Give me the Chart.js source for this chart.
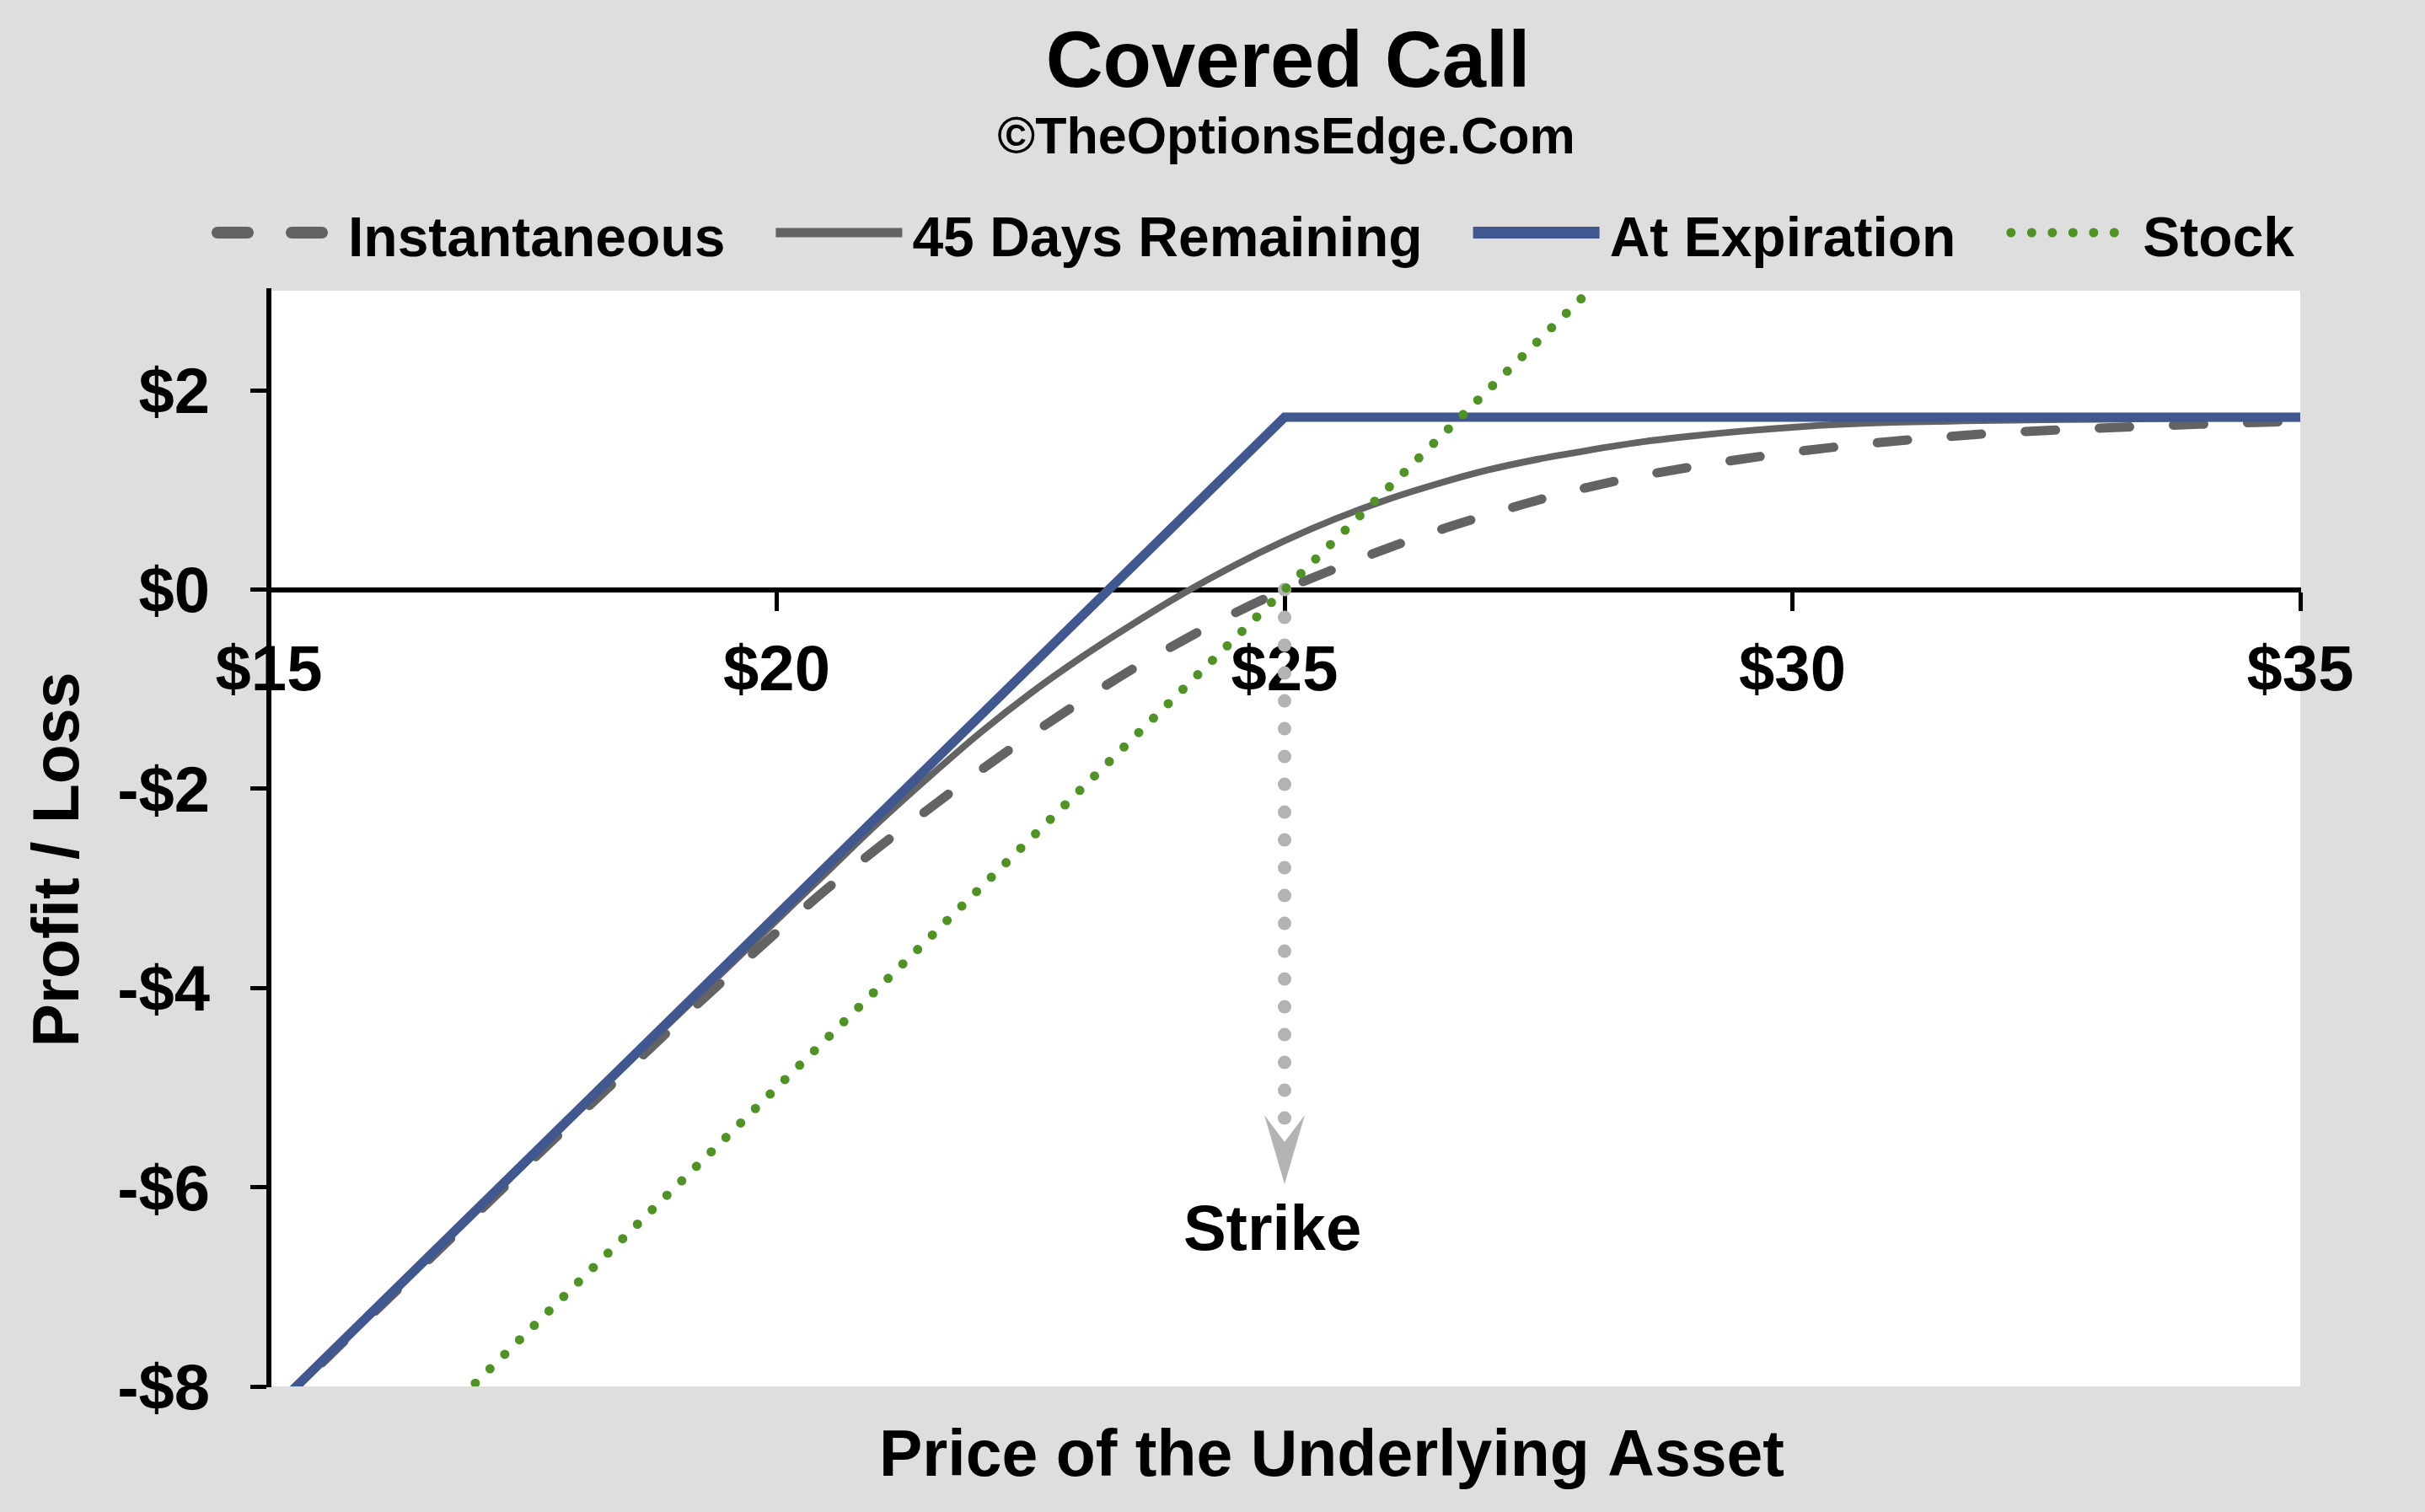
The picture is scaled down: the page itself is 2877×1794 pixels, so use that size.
<!DOCTYPE html>
<html>
<head>
<meta charset="utf-8">
<title>Covered Call</title>
<script src="https://cdn.jsdelivr.net/npm/chart.js@4.4.1/dist/chart.umd.min.js"></script>
<style>
    html, body { margin: 0; padding: 0; background: #dedede; }
    #wrap { width: 2877px; height: 1794px; }
</style>
</head>
<body>
<div id="wrap"><canvas id="coveredCall" width="2877" height="1794"></canvas></div>
<script>
// 文本
const titleText = 'Covered Call';
const subtitleText = '©TheOptionsEdge.Com';
const xTitle = 'Price of the Underlying Asset';
const yTitle = 'Profit / Loss';

// 标的价格 (x)
const prices = [15, 16, 17, 18, 18.5, 19, 19.5, 20, 20.5, 21, 21.5, 22, 22.5, 23, 23.5,
    24, 24.5, 25, 25.5, 26, 26.5, 27, 27.5, 28, 28.5, 29, 29.5, 30, 30.5, 31, 32, 33, 34, 35];

// 盈亏 (y)
const instantPL = [-8.28, -7.29, -6.31, -5.33, -4.85, -4.37, -3.90, -3.44, -3.00, -2.59, -2.20,
    -1.82, -1.46, -1.12, -0.80, -0.51, -0.24, 0.00, 0.21, 0.41, 0.59, 0.75, 0.90, 1.03, 1.14,
    1.23, 1.31, 1.38, 1.44, 1.49, 1.57, 1.62, 1.66, 1.69];
const days45PL = [-8.27, -7.27, -6.28, -5.29, -4.79, -4.30, -3.81, -3.32, -2.83, -2.34, -1.88,
    -1.44, -1.04, -0.68, -0.35, -0.04, 0.24, 0.49, 0.71, 0.90, 1.06, 1.20, 1.31, 1.40, 1.48,
    1.54, 1.59, 1.63, 1.66, 1.68, 1.70, 1.71, 1.72, 1.72];
const expirationPrices = [15, 25, 35];
const expirationPL = [-8.27, 1.73, 1.73];
const stockPrices = [15, 35];
const stockPL = [-10, 10];

// 坐标轴
const xTicks = [15, 20, 25, 30, 35];
const yTicks = [-8, -6, -4, -2, 0, 2];
const xMin = 15, xMax = 35, yMin = -8, yMax = 3;

// 行权价标注
const strikePrice = 25;
const strikeArrowTop = 0;
const strikeArrowTip = -5.97;
const strikeLabel = 'Strike';
const strikeLabelPrice = 24.88;
const strikeLabelValue = -6.63;

const fontFamily = "'Liberation Sans', Arial, Helvetica, sans-serif";
function boldFont(size) {
    return 'bold ' + size + 'px ' + fontFamily;
}
function toPoints(xs, ys) {
    return xs.map((x, i) => ({ x: x, y: ys[i] }));
}
function money(v) {
    return (v < 0 ? '-$' : '$') + Math.abs(v);
}

// 背景
const backgroundPlugin = {
    id: 'background',
    beforeDraw(chart) {
        const { ctx, chartArea: a } = chart;
        ctx.save();
        ctx.fillStyle = '#dedede';
        ctx.fillRect(0, 0, chart.width, chart.height);
        ctx.fillStyle = '#ffffff';
        ctx.fillRect(a.left, a.top, a.right - a.left, a.bottom - a.top);
        ctx.restore();
    }
};

// 行权价箭头
const strikePlugin = {
    id: 'strike',
    beforeDatasetsDraw(chart) {
        const { ctx, scales: { x, y } } = chart;
        const sx = x.getPixelForValue(strikePrice);
        const y0 = y.getPixelForValue(strikeArrowTop);
        const yTip = y.getPixelForValue(strikeArrowTip);
        ctx.save();
        ctx.strokeStyle = '#b3b3b3';
        ctx.fillStyle = '#b3b3b3';
        ctx.lineWidth = 16;
        ctx.lineCap = 'round';
        ctx.setLineDash([0, 33]);
        ctx.beginPath();
        ctx.moveTo(sx, y0);
        ctx.lineTo(sx, yTip - 70);
        ctx.stroke();
        ctx.setLineDash([]);
        ctx.beginPath();
        ctx.moveTo(sx, yTip);
        ctx.lineTo(sx - 24, yTip - 82);
        ctx.lineTo(sx, yTip - 50);
        ctx.lineTo(sx + 24, yTip - 82);
        ctx.closePath();
        ctx.fill();
        ctx.fillStyle = '#000';
        ctx.font = boldFont(76);
        ctx.textAlign = 'center';
        ctx.textBaseline = 'alphabetic';
        ctx.fillText(strikeLabel, x.getPixelForValue(strikeLabelPrice), y.getPixelForValue(strikeLabelValue));
        ctx.restore();
    }
};

// 标题、图例、坐标轴标题
const textPlugin = {
    id: 'texts',
    afterDraw(chart) {
        const { ctx, chartArea: a } = chart;
        const midX = (a.left + a.right) / 2;
        ctx.save();
        ctx.fillStyle = '#000';
        ctx.textAlign = 'center';
        ctx.textBaseline = 'alphabetic';
        ctx.font = boldFont(94);
        ctx.fillText(titleText, midX + 4, 103);
        ctx.font = boldFont(61);
        ctx.fillText(subtitleText, midX + 2, 182);
        ctx.font = boldFont(77);
        ctx.fillText(xTitle, midX + 56, 1751);
        ctx.save();
        ctx.translate(93, 1020);
        ctx.rotate(-Math.PI / 2);
        ctx.fillText(yTitle, 0, 0);
        ctx.restore();

        // 图例
        let lx = 251;
        const markerY = 276;
        ctx.font = boldFont(66);
        ctx.textAlign = 'left';
        chart.data.datasets.forEach(ds => {
            ctx.save();
            ctx.strokeStyle = ds.borderColor;
            ctx.lineCap = ds.borderCapStyle || 'butt';
            ctx.lineWidth = ds.borderDash && ds.borderDash[0] === 0 ? ds.borderWidth : ds.borderWidth + 3;
            ctx.setLineDash(ds.borderDash || []);
            const pad = ctx.lineCap === 'round' ? ctx.lineWidth / 2 : 0;
            ctx.beginPath();
            ctx.moveTo(lx + pad, markerY);
            ctx.lineTo(lx + 150 - pad, markerY);
            ctx.stroke();
            ctx.restore();
            ctx.fillText(ds.label, lx + 162, 304);
            lx += 162 + ctx.measureText(ds.label).width + 60;
        });
        ctx.restore();
    }
};

const axisFont = { family: fontFamily, size: 76, weight: 'bold' };

new Chart(document.getElementById('coveredCall'), {
    type: 'line',
    data: {
        datasets: [
            {
                label: 'Instantaneous',
                data: toPoints(prices, instantPL),
                borderColor: '#636363',
                borderWidth: 11,
                borderDash: [36, 52],
                borderCapStyle: 'round',
                cubicInterpolationMode: 'monotone',
                order: 3
            },
            {
                label: '45 Days Remaining',
                data: toPoints(prices, days45PL),
                borderColor: '#636363',
                borderWidth: 8,
                cubicInterpolationMode: 'monotone',
                order: 2
            },
            {
                label: 'At Expiration',
                data: toPoints(expirationPrices, expirationPL),
                borderColor: '#40578f',
                borderWidth: 11,
                tension: 0,
                order: 1
            },
            {
                label: 'Stock',
                data: toPoints(stockPrices, stockPL),
                borderColor: '#4e9323',
                borderWidth: 11,
                borderDash: [0, 24.5],
                borderCapStyle: 'round',
                tension: 0,
                order: 0
            }
        ]
    },
    options: {
        responsive: false,
        devicePixelRatio: 1,
        animation: false,
        events: [],
        clip: 0,
        elements: { point: { radius: 0 } },
        layout: { padding: { top: 345, right: 148, bottom: 149, left: 0 } },
        plugins: {
            legend: { display: false },
            tooltip: { enabled: false },
            title: { display: false }
        },
        scales: {
            x: {
                type: 'linear',
                min: xMin,
                max: xMax,
                position: { y: 0 },
                afterBuildTicks: s => { s.ticks = xTicks.map(v => ({ value: v })); },
                ticks: { callback: money, font: axisFont, color: '#000', padding: 31, maxRotation: 0, autoSkip: false },
                grid: { drawOnChartArea: false, drawTicks: true, tickLength: 22, tickWidth: 5, tickColor: '#000' },
                border: { display: true, color: '#000', width: 6 }
            },
            y: {
                type: 'linear',
                min: yMin,
                max: yMax,
                position: 'left',
                afterBuildTicks: s => { s.ticks = yTicks.map(v => ({ value: v })); },
                afterFit: s => { s.width = 319; },
                ticks: { callback: money, font: axisFont, color: '#000', padding: 48, labelOffset: 6 },
                grid: { drawOnChartArea: false, drawTicks: true, tickLength: 22, tickWidth: 5, tickColor: '#000' },
                border: { display: true, color: '#000', width: 6 }
            }
        }
    },
    plugins: [backgroundPlugin, strikePlugin, textPlugin]
});
</script>
</body>
</html>
